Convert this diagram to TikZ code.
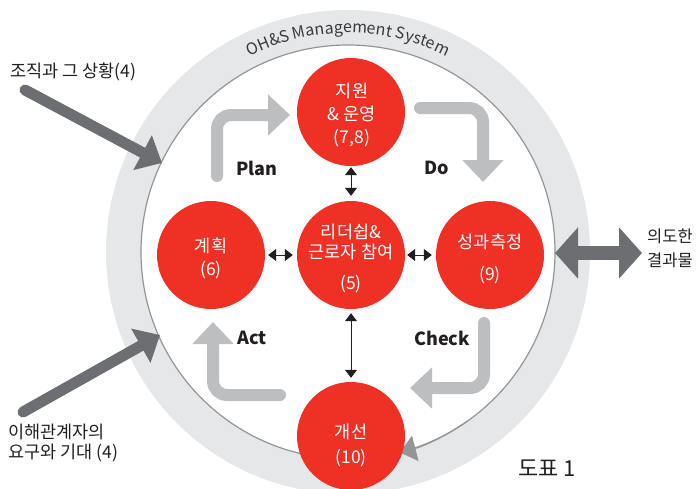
\documentclass[tikz,border=0pt]{standalone}
\usepackage{fontspec}
\setmainfont{Noto Sans CJK KR}
\usetikzlibrary{arrows.meta,decorations.text}
\definecolor{ohred}{HTML}{EE3124}
\definecolor{ringgray}{HTML}{E6E7E8}
\definecolor{ringline}{HTML}{939598}
\definecolor{flowgray}{HTML}{BCBEC0}
\definecolor{darkarrow}{HTML}{6D6E71}
\definecolor{txt}{HTML}{231F20}
\definecolor{ringtext}{HTML}{3A3A3C}
\begin{document}
\begin{tikzpicture}[x=1pt,y=-1pt,
  redcircle/.style={circle, fill=ohred, minimum size=108pt, inner sep=0pt},
  circtext/.style={text=white, align=center, font=\fontsize{17.5}{23}\selectfont, inner sep=0pt},
  pdca/.style={font=\bfseries\fontsize{18}{20}\selectfont, text=txt, inner sep=0pt},
  sidelabel/.style={font=\fontsize{17.5}{20}\selectfont, text=txt, align=left, inner sep=0pt, anchor=west},
  flow/.style={draw=flowgray, line width=12pt, rounded corners=14pt, line cap=round, -{Triangle[length=22pt,width=40pt]}},
  bigarrow/.style={draw=darkarrow, line width=11pt, line cap=round, -{Triangle[length=22pt,width=38pt]}},
  smallarrow/.style={draw=txt, line width=0.8pt, {Triangle[length=8pt,width=12pt]}-{Triangle[length=8pt,width=12pt]}}
]
\useasboundingbox (0,0) rectangle (696,488);
% ring
\fill[ringgray] (348,252) circle[radius=242pt];
\draw[ringline, line width=1.2pt, fill=white] (348,252) circle[radius=207pt];
\draw[ringline, line width=1.2pt, -{Triangle[length=16pt,width=26pt]}] (348,252) ++(-55:207pt) arc[start angle=-55, end angle=-75.5, radius=207pt];
\path[decorate, decoration={text along path, text align=center,
  text={|\fontsize{16}{16}\selectfont\color{ringtext}|OH{\&}S Management System}}]
  (348,252) ++(150:219pt) arc[start angle=150, end angle=30, radius=219pt];

% PDCA flow arrows
\coordinate (planS) at (217,176); \coordinate (planE) at (290,115);
\coordinate (doS) at (420,108);   \coordinate (doE) at (483,182);
\coordinate (chkS) at (484,323);  \coordinate (chkE) at (410,388);
\coordinate (actS) at (280,395);  \coordinate (actE) at (213,322);
\draw[flow] (planS) |- (planE);
\draw[flow] (doS) -| (doE);
\draw[flow] (chkS) |- (chkE);
\draw[flow] (actS) -| (actE);

% circles
\node[redcircle] (sup) at (351,112) {};
\node[redcircle] (plan) at (211,255) {};
\node[redcircle] (lead) at (351,255) {};
\node[redcircle] (meas) at (490,255) {};
\node[redcircle] (imp) at (351,436) {};
\node[circtext] (supT) at (352,115) {지원\\\& 운영\\(7,8)};
\node[circtext] (planT) at (211,258) {계획\\(6)};
\node[circtext] (leadT) at (351,258) {리더쉽\&\\[-3pt]근로자 참여\\[8pt](5)};
\node[circtext] (measT) at (490,259) {성과측정\\[9pt](9)};
\node[circtext] (impT) at (351,445) {개선\\[2pt](10)};

% small arrows
\draw[smallarrow, shorten <=1pt, shorten >=5pt] (sup) -- (lead);
\draw[smallarrow, shorten <=3pt, shorten >=4pt] (plan) -- (lead);
\draw[smallarrow, shorten <=2pt, shorten >=4pt] (lead) -- (meas);
\draw[smallarrow, shorten <=4pt, shorten >=4pt] (lead) -- (imp);

% PDCA labels
\node[pdca] (planL) at (257,168) {Plan};
\node[pdca] (doL) at (437,168) {Do};
\node[pdca] (chkL) at (442,338) {Check};
\node[pdca] (actL) at (252,338) {Act};

% side labels
\node[sidelabel] (ctx) at (10,72) {조직과 그 상황(4)};
\node[sidelabel] (stake) at (8,443) {이해관계자의\\요구와 기대 (4)};
\node[sidelabel, font=\fontsize{16.5}{24}\selectfont] (res) at (647,248) {의도한\\결과물};
\node[sidelabel, font=\fontsize{22}{24}\selectfont] (fig) at (518,468) {도표 1};

% dark arrows
\coordinate (ctxS) at (25,90);   \coordinate (ctxE) at (162,163);
\coordinate (stkS) at (23,412);  \coordinate (stkE) at (160,335);
\coordinate (resA) at (555,253); \coordinate (resB) at (642,253);
\draw[bigarrow] (ctxS) -- (ctxE);
\draw[bigarrow] (stkS) -- (stkE);
\draw[draw=darkarrow, line width=14pt, {Triangle[length=23pt,width=50pt]}-{Triangle[length=23pt,width=50pt]}] (resA) -- (resB);
\end{tikzpicture}
\end{document}
